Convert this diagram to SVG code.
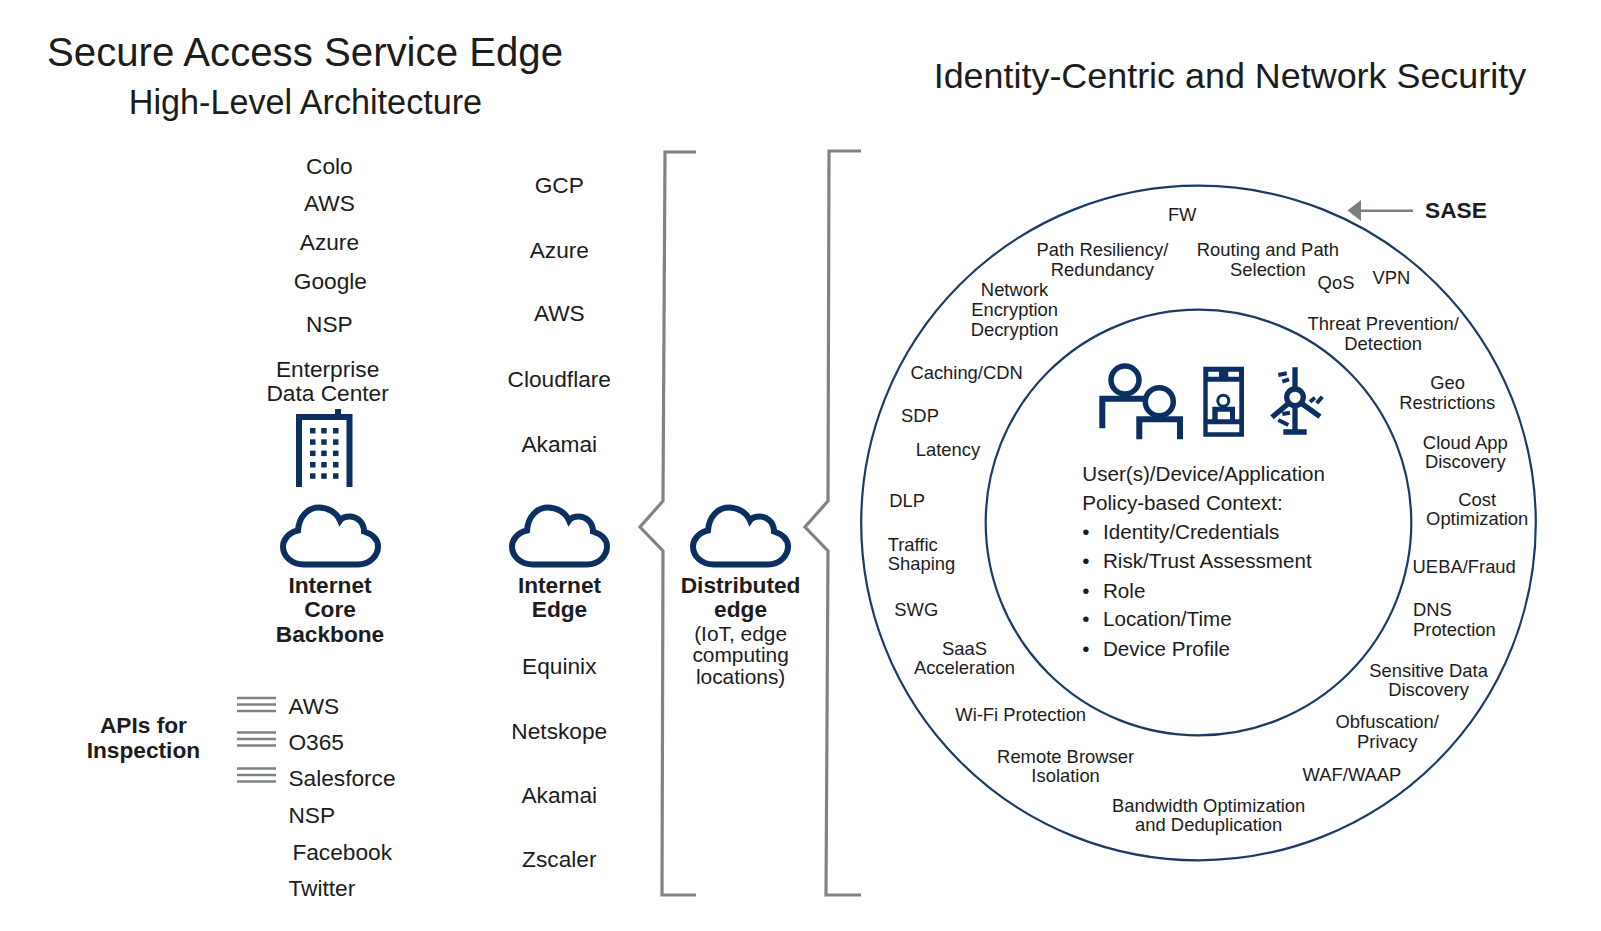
<svg xmlns="http://www.w3.org/2000/svg" xmlns:xlink="http://www.w3.org/1999/xlink" width="1601" height="931" viewBox="0 0 1601 931">
<style>
text{font-family:"Liberation Sans",Arial,sans-serif;fill:#1c1c1c}
.m{text-anchor:middle}
.l{font-size:22.7px}
.s{font-size:20.9px}
.b{font-weight:bold}
.r{font-size:18.4px;text-anchor:middle}
.rl{font-size:18.4px}
.c{font-size:20.6px}
.navy{fill:none;stroke:#0b2f61;stroke-width:6}
.ring{fill:none;stroke:#1c3a66;stroke-width:2.2}
.br{fill:none;stroke:#7f8483;stroke-width:3.2}
.api{stroke:#7f8483;stroke-width:2.4}
.win{fill:#0b2f61}
</style>
<defs>
<g id="cloud"><path class="navy" stroke-linejoin="miter" d="M24 60H78C90 60 98 51 98 42C98 35 93 30 84 27C84 17 76 12 70 12C66 12 62 13 60 16C56 7 47 3 39 3C28 3 19 12 18 26C8 28 3 36 3 42C3 52 12 60 24 60Z"/></g>
</defs>
<rect width="1601" height="931" fill="#fff"/>
<g id="titles">
<text x="47" y="66" font-size="40.2">Secure Access Service Edge</text>
<text x="128.7" y="114" font-size="34.2">High-Level Architecture</text>
<text x="933.7" y="88" font-size="35.9">Identity-Centric and Network Security</text>
</g>
<g id="connectors">
<path class="br" d="M696 152H665L663 501L640 527L663 551L662 895H696"/>
<path class="br" d="M861 151H829L828 501L805 527L828 551L826 895H861"/>
<path d="M1413 210.7H1358" stroke="#7a8080" stroke-width="2.5" fill="none"/>
<path d="M1347.5 210.5L1361 200V221Z" fill="#7a8080"/>
</g>
<g id="col-core">
<text x="329.4" y="173.7" class="l m">Colo</text>
<text x="329.4" y="211" class="l m">AWS</text>
<text x="329.4" y="250" class="l m">Azure</text>
<text x="330.4" y="289" class="l m">Google</text>
<text x="329.4" y="332" class="l m">NSP</text>
<text x="327.6" y="377" class="l m">Enterprise</text>
<text x="327.6" y="401" class="l m">Data Center</text>
</g>
<g id="building" fill="none">
<path class="navy" stroke-width="5.5" d="M299 487V417H349.5V487M338 417V409"/>
<g class="win">
<rect x="310" y="428" width="5.5" height="5.5"/><rect x="321.2" y="428" width="5.5" height="5.5"/><rect x="333" y="428" width="5.5" height="5.5"/>
<rect x="310" y="439.3" width="5.5" height="5.5"/><rect x="321.2" y="439.3" width="5.5" height="5.5"/><rect x="333" y="439.3" width="5.5" height="5.5"/>
<rect x="310" y="450.6" width="5.5" height="5.5"/><rect x="321.2" y="450.6" width="5.5" height="5.5"/><rect x="333" y="450.6" width="5.5" height="5.5"/>
<rect x="310" y="462" width="5.5" height="5.5"/><rect x="321.2" y="462" width="5.5" height="5.5"/><rect x="333" y="462" width="5.5" height="5.5"/>
<rect x="310" y="473.3" width="5.5" height="5.5"/><rect x="321.2" y="473.3" width="5.5" height="5.5"/><rect x="333" y="473.3" width="5.5" height="5.5"/>
</g>
</g>
<g id="internet-core-backbone">
<use xlink:href="#cloud" href="#cloud" x="280" y="504.5"/>
<text x="330" y="592.5" class="l m b">Internet</text>
<text x="330" y="617" class="l m b">Core</text>
<text x="330" y="642" class="l m b">Backbone</text>
</g>
<g id="col-edge">
<text x="559.3" y="193" class="l m">GCP</text>
<text x="559.3" y="258.4" class="l m">Azure</text>
<text x="559.3" y="321.3" class="l m">AWS</text>
<text x="559.3" y="387" class="l m">Cloudflare</text>
<text x="559.3" y="451.5" class="l m">Akamai</text>
<text x="559.3" y="674" class="l m">Equinix</text>
<text x="559.3" y="738.5" class="l m">Netskope</text>
<text x="559.3" y="803" class="l m">Akamai</text>
<text x="559.3" y="867" class="l m">Zscaler</text>
</g>
<g id="internet-edge">
<use xlink:href="#cloud" href="#cloud" x="509" y="504.5"/>
<text x="559.5" y="592.5" class="l m b">Internet</text>
<text x="559.5" y="617" class="l m b">Edge</text>
</g>
<g id="distributed-edge">
<use xlink:href="#cloud" href="#cloud" x="690" y="504.5"/>
<text x="740.6" y="592.5" class="l m b">Distributed</text>
<text x="740.6" y="617" class="l m b">edge</text>
<text x="740.6" y="640.5" class="s m">(IoT, edge</text>
<text x="740.6" y="662" class="s m">computing</text>
<text x="740.6" y="684" class="s m">locations)</text>
</g>
<g id="apis">
<text x="143.4" y="733.4" class="l m b">APIs for</text>
<text x="143.4" y="758" class="l m b">Inspection</text>
<path class="api" d="M237 698H276M237 704.5H276M237 711H276M237 732.5H276M237 739H276M237 745.5H276M237 768.5H276M237 775H276M237 781.5H276"/>
<text x="288.4" y="714" class="l">AWS</text>
<text x="288.4" y="750" class="l">O365</text>
<text x="288.4" y="786" class="l">Salesforce</text>
<text x="288.4" y="822.5" class="l">NSP</text>
<text x="292.4" y="860" class="l">Facebook</text>
<text x="288.4" y="896.4" class="l">Twitter</text>
</g>
<g id="sase">
<circle class="ring" cx="1198.5" cy="523" r="337.3"/>
<text x="1425" y="218" font-size="22.7" class="b">SASE</text>
<text class="r" x="1182.2" y="221.4">FW</text>
<text class="r" x="1102.4" y="256.2">Path Resiliency/</text>
<text class="r" x="1102.4" y="275.6">Redundancy</text>
<text class="r" x="1267.9" y="256.2">Routing and Path</text>
<text class="r" x="1267.9" y="276">Selection</text>
<text class="r" x="1336" y="288.8">QoS</text>
<text class="r" x="1391.5" y="283.6">VPN</text>
<text class="r" x="1014.6" y="295.8">Network</text>
<text class="r" x="1014.6" y="315.6">Encryption</text>
<text class="r" x="1014.6" y="335.6">Decryption</text>
<text class="r" x="1383.2" y="329.8">Threat Prevention/</text>
<text class="r" x="1383.2" y="350">Detection</text>
<text class="r" x="966.6" y="379">Caching/CDN</text>
<text class="r" x="1447.7" y="389">Geo</text>
<text class="r" x="1447.2" y="408.6">Restrictions</text>
<text class="r" x="920" y="421.9">SDP</text>
<text class="r" x="948" y="456.4">Latency</text>
<text class="r" x="1465.3" y="449.2">Cloud App</text>
<text class="r" x="1465.3" y="468.4">Discovery</text>
<text class="r" x="907.2" y="506.7">DLP</text>
<text class="r" x="1477.2" y="505.6">Cost</text>
<text class="r" x="1477.2" y="525">Optimization</text>
<text class="rl" x="887.7" y="550.6">Traffic</text>
<text class="rl" x="887.7" y="570.4">Shaping</text>
<text class="r" x="1464.2" y="572.8">UEBA/Fraud</text>
<text class="r" x="916.3" y="615.8">SWG</text>
<text class="rl" x="1413" y="616.4">DNS</text>
<text class="rl" x="1413" y="636">Protection</text>
<text class="r" x="964.5" y="654.6">SaaS</text>
<text class="r" x="964.5" y="673.8">Acceleration</text>
<text class="r" x="1428.6" y="676.8">Sensitive Data</text>
<text class="r" x="1428.6" y="696">Discovery</text>
<text class="r" x="1020.7" y="721">Wi-Fi Protection</text>
<text class="r" x="1387.2" y="728.1">Obfuscation/</text>
<text class="r" x="1387.2" y="748">Privacy</text>
<text class="r" x="1065.6" y="762.6">Remote Browser</text>
<text class="r" x="1065.6" y="782">Isolation</text>
<text class="r" x="1352" y="781">WAF/WAAP</text>
<text class="r" x="1208.7" y="811.8">Bandwidth Optimization</text>
<text class="r" x="1208.7" y="831">and Deduplication</text>
</g>
<g id="identity-core">
<circle class="ring" cx="1198.5" cy="522.5" r="212.8"/>
<g id="users" fill="#fff" stroke="#0b2f61" stroke-width="6">
<circle cx="1125" cy="380" r="14" fill="none" stroke-width="5.5"/>
<path d="M1102.3 428.3V398.7H1146" fill="none"/>
<circle cx="1159.3" cy="401.7" r="14" stroke-width="5.5"/>
<path d="M1139.3 439.3V419.3H1180V439.3" fill="none"/>
</g>
<g id="device">
<path fill="#0b2f61" fill-rule="evenodd" d="M1203.3 366.7H1244V436.7H1203.3ZM1208.3 371.7V376.7H1219V371.7ZM1228.3 371.7V376.7H1239V371.7ZM1207.7 381.7V419.3H1239.3V381.7ZM1207.7 424.3V432.3H1239.3V424.3Z"/>
<circle cx="1223.3" cy="400.7" r="5.5" fill="none" stroke="#0b2f61" stroke-width="3"/>
<path fill="#0b2f61" fill-rule="evenodd" d="M1212.3 406.7H1235V420.7H1212.3ZM1217.7 411.7V420H1230V411.7Z"/>
</g>
<g id="turbine" fill="none" stroke="#0b2f61" stroke-width="5.3">
<circle cx="1295" cy="397.3" r="8.3"/>
<path d="M1295 367.3V389M1295 405.6V434M1283.3 432H1306.7M1289 403L1272 417.3M1301 403L1320 416.7"/>
<path stroke-width="4" d="M1278.3 375L1286.7 373.3M1282.3 381.7L1289 379.3M1310 401.7L1315 397.7M1316.7 403.3L1322.3 396.7M1282.3 414L1290 412.7M1278.3 420L1288.3 425"/>
</g>
<text class="c" x="1082.3" y="481">User(s)/Device/Application</text>
<text class="c" x="1082.3" y="510">Policy-based Context:</text>
<text class="c" x="1082.3" y="539.4">•</text>
<text class="c" x="1103" y="539.4">Identity/Credentials</text>
<text class="c" x="1082.3" y="568">•</text>
<text class="c" x="1103" y="568">Risk/Trust Assessment</text>
<text class="c" x="1082.3" y="597.6">•</text>
<text class="c" x="1103" y="597.6">Role</text>
<text class="c" x="1082.3" y="626.2">•</text>
<text class="c" x="1103" y="626.2">Location/Time</text>
<text class="c" x="1082.3" y="655.8">•</text>
<text class="c" x="1103" y="655.8">Device Profile</text>
</g>
</svg>
